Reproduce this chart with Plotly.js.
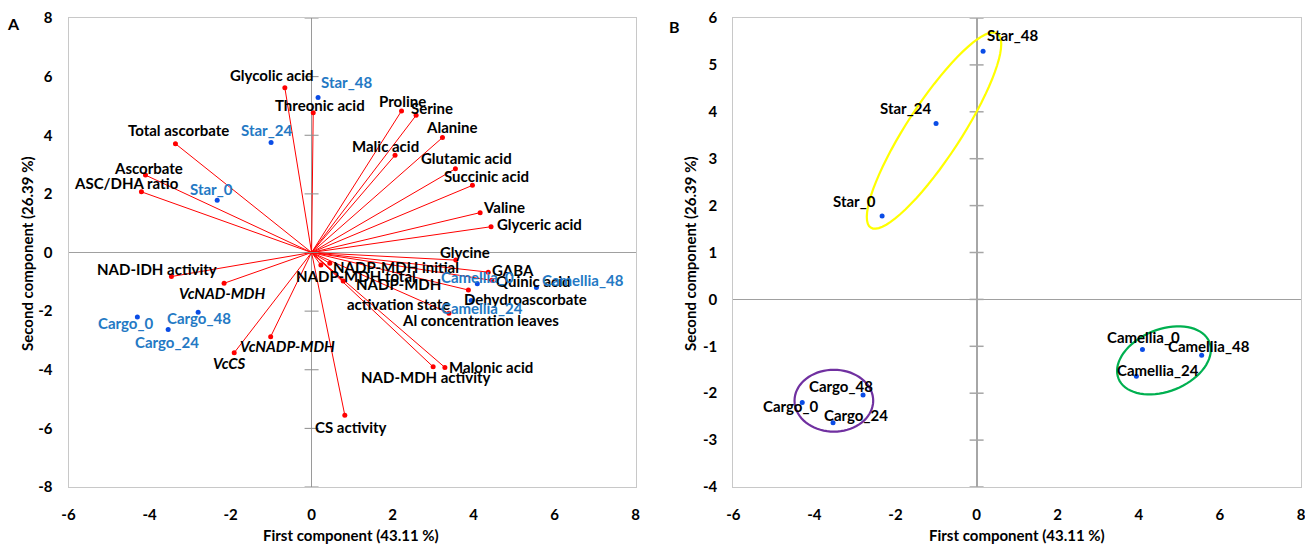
<!DOCTYPE html>
<html>
<head>
<meta charset="utf-8">
<script src="https://cdn.plot.ly/plotly-3.0.1.min.js"></script>
<style>html,body{margin:0;padding:0;background:#fff;}#chart{width:1305px;height:544px;}</style>
</head>
<body>
<div id="chart"></div>
<script>
// ---------- DATA ----------
const varNames = ['Glycolic acid','Threonic acid','Total ascorbate','Ascorbate','ASC/DHA ratio',
  'Proline','Serine','Alanine','Malic acid','Glutamic acid','Succinic acid','Valine','Glyceric acid',
  'Glycine','GABA','Quinic acid','Dehydroascorbate','Al concentration leaves','Malonic acid',
  'NAD-MDH activity','CS activity','NADP-MDH initial','NADP-MDH total','NADP-MDH<br>activation state',
  'NAD-IDH activity','VcNAD-MDH','VcNADP-MDH','VcCS'];
const varPC1 = [-0.66, 0.04, -3.36, -4.10, -4.20,
  2.22, 2.58, 3.23, 2.06, 3.55, 3.97, 4.16, 4.43,
  3.56, 4.36, 4.45, 3.87, 3.39, 3.29,
  3.00, 0.82, 0.45, 0.23, 0.78,
  -3.46, -2.16, -1.01, -1.91];
const varPC2 = [5.62, 4.77, 3.71, 2.64, 2.07,
  4.83, 4.68, 3.92, 3.32, 2.86, 2.29, 1.36, 0.88,
  -0.26, -0.67, -0.95, -1.28, -2.07, -3.92,
  -3.90, -5.55, -0.37, -0.43, -0.97,
  -0.82, -1.05, -2.87, -3.42];

const sampleNames = ['Star_0','Star_24','Star_48','Cargo_0','Cargo_24','Cargo_48','Camellia_0','Camellia_24','Camellia_48'];
const samplePC1 = [-2.33, -1.00, 0.16, -4.30, -3.54, -2.80, 4.09, 3.94, 5.55];
const samplePC2 = [1.78, 3.75, 5.29, -2.20, -2.63, -2.04, -1.07, -1.64, -1.19];

const xTicks = [-6, -4, -2, 0, 2, 4, 6, 8];
const yTicksA = [-8, -6, -4, -2, 0, 2, 4, 6, 8];
const yTicksB = [-4, -3, -2, -1, 0, 1, 2, 3, 4, 5, 6];

// group ellipses in panel B: centre, two conjugate semi-axes (data units)
const ellipseCentres = [[-1.05, 3.60], [-3.52, -2.16], [4.62, -1.30]];
const ellipseAxisU   = [[1.56, 2.07], [0.97, 0.0], [1.12, 0.39]];
const ellipseAxisV   = [[0.56, -0.31], [0.0, -0.66], [0.287, -0.613]];

// ---------- STYLE / LABEL PLACEMENT (pixel offsets) ----------
const italicVars = ['VcNAD-MDH','VcNADP-MDH','VcCS'];
const varLabelShift = [[-13,-12.7],[7,-7.7],[2.6,-14],[3,-7.3],[-14.7,-8.4],
  [0.5,-10.3],[16,-7],[8.6,-10.4],[-9.7,-9.3],[11,-11],[14.5,-9.6],[24,-5.4],[48,-2.7],
  [9.3,-7.7],[25,-2.3],[42,0.4],[56.7,9.3],[31.8,7],[45.8,0],
  [-7,10],[5.8,12.3],[65.8,3.4],[35,11],[55.7,12.7],
  [-14.2,-7.4],[-1.8,10],[16.5,9.3],[-4.3,10.6]];
const sampleShiftA = [[-5.3,-11],[-4.7,-12.6],[28.8,-15.8],[-12,5.7],[-1.6,12],[1,6],[0,-7],[11,7.2],[46.5,-7.4]];
const sampleShiftB = [[-28,-14.5],[-30.3,-15.5],[29.3,-16.6],[-11.5,3.8],[22.7,-8],[-22.4,-8.7],[0.7,-12.2],[21.8,-6.6],[7.4,-8.8]];
const ellipseColors = ['#FFFF00', '#7030A0', '#00B050'];

const FONT = 'Lato, "Open Sans", sans-serif';
const LABEL_SIZE = 15;
const SAMPLE_BLUE_TEXT = '#2479C4';
const DOT_BLUE = '#0A4CE6';

// ---------- TRACES ----------
const lineX = [], lineY = [];
varPC1.forEach((x, i) => { lineX.push(0, x, null); lineY.push(0, varPC2[i], null); });

const traces = [
  {x: lineX, y: lineY, xaxis: 'x', yaxis: 'y', mode: 'lines', type: 'scatter',
   line: {color: '#FF0000', width: 1}, hoverinfo: 'skip'},
  {x: varPC1, y: varPC2, xaxis: 'x', yaxis: 'y', mode: 'markers', type: 'scatter',
   marker: {color: '#FF0000', size: 5}},
  {x: samplePC1, y: samplePC2, xaxis: 'x', yaxis: 'y', mode: 'markers', type: 'scatter',
   marker: {color: DOT_BLUE, size: 5}},
  {x: yTicksA.map(() => 0), y: yTicksA, xaxis: 'x', yaxis: 'y', mode: 'markers', type: 'scatter',
   marker: {symbol: 'line-ew', size: 10, line: {color: '#8c8c8c', width: 1}}, cliponaxis: false, hoverinfo: 'skip'},
  {x: samplePC1, y: samplePC2, xaxis: 'x2', yaxis: 'y2', mode: 'markers', type: 'scatter',
   marker: {color: DOT_BLUE, size: 5}},
  {x: yTicksB.map(() => 0), y: yTicksB, xaxis: 'x2', yaxis: 'y2', mode: 'markers', type: 'scatter',
   marker: {symbol: 'line-ew', size: 10, line: {color: '#a6a6a6', width: 1.5}}, cliponaxis: false, hoverinfo: 'skip'}
];

// ---------- ANNOTATIONS ----------
const annotations = [];
varNames.forEach((n, i) => {
  annotations.push({x: varPC1[i], y: varPC2[i], xref: 'x', yref: 'y', text: n, showarrow: false,
    xanchor: 'center', yanchor: 'middle', xshift: varLabelShift[i][0], yshift: -varLabelShift[i][1],
    font: {family: FONT, size: LABEL_SIZE, color: '#000', weight: 700,
           style: italicVars.includes(n) ? 'italic' : 'normal'}});
});
sampleNames.forEach((n, i) => {
  annotations.push({x: samplePC1[i], y: samplePC2[i], xref: 'x', yref: 'y', text: n, showarrow: false,
    xanchor: 'center', yanchor: 'middle', xshift: sampleShiftA[i][0], yshift: -sampleShiftA[i][1],
    font: {family: FONT, size: LABEL_SIZE, color: SAMPLE_BLUE_TEXT, weight: 700}});
  annotations.push({x: samplePC1[i], y: samplePC2[i], xref: 'x2', yref: 'y2', text: n, showarrow: false,
    xanchor: 'center', yanchor: 'middle', xshift: sampleShiftB[i][0], yshift: -sampleShiftB[i][1],
    font: {family: FONT, size: LABEL_SIZE, color: '#000', weight: 700}});
});
const titleFont = {family: FONT, size: 15, color: '#000', weight: 700};
annotations.push(
  {x: 351/1305, y: 9/544, xref: 'paper', yref: 'paper', text: 'First component (43.11 %)', showarrow: false, xanchor: 'center', yanchor: 'middle', font: titleFont},
  {x: 1017/1305, y: 9/544, xref: 'paper', yref: 'paper', text: 'First component (43.11 %)', showarrow: false, xanchor: 'center', yanchor: 'middle', font: titleFont},
  {x: 27/1305, y: 290/544, xref: 'paper', yref: 'paper', text: 'Second component (26.39 %)', showarrow: false, textangle: -90, xanchor: 'center', yanchor: 'middle', font: titleFont},
  {x: 690/1305, y: 290/544, xref: 'paper', yref: 'paper', text: 'Second component (26.39 %)', showarrow: false, textangle: -90, xanchor: 'center', yanchor: 'middle', font: titleFont},
  {x: 13/1305, y: 520/544, xref: 'paper', yref: 'paper', text: 'A', showarrow: false, xanchor: 'center', yanchor: 'middle', font: {family: FONT, size: 16, color: '#000', weight: 700}},
  {x: 674/1305, y: 518/544, xref: 'paper', yref: 'paper', text: 'B', showarrow: false, xanchor: 'center', yanchor: 'middle', font: {family: FONT, size: 16, color: '#000', weight: 700}}
);

// ---------- ELLIPSE SHAPES ----------
const shapes = ellipseCentres.map((c, k) => {
  const u = ellipseAxisU[k], v = ellipseAxisV[k];
  let p = '';
  for (let j = 0; j <= 72; j++) {
    const t = 2 * Math.PI * j / 72;
    const px = c[0] + u[0] * Math.cos(t) + v[0] * Math.sin(t);
    const py = c[1] + u[1] * Math.cos(t) + v[1] * Math.sin(t);
    p += (j === 0 ? 'M' : 'L') + px.toFixed(4) + ',' + py.toFixed(4);
  }
  return {type: 'path', path: p + 'Z', xref: 'x2', yref: 'y2', line: {color: ellipseColors[k], width: 2.2}};
});

// ---------- AXES ----------
const tickFont = {family: FONT, size: 15, color: '#000', weight: 700};
function xAxis(domain, zlw, zlc) {
  return {domain: domain, range: [-6, 8], tickvals: xTicks, ticktext: xTicks.map(String),
    showgrid: false, zeroline: true, zerolinecolor: zlc, zerolinewidth: zlw,
    showline: true, mirror: true, linecolor: '#c8c8c8', linewidth: 1, ticks: '',
    tickfont: tickFont, ticklabelstandoff: 14, ticklabeloverflow: 'allow', fixedrange: true};
}
function yAxis(domain, ticks, range, anchor) {
  return {domain: domain, range: range, tickvals: ticks, ticktext: ticks.map(String), anchor: anchor,
    showgrid: false, zeroline: true, zerolinecolor: '#a0a0a0', zerolinewidth: 1,
    showline: true, mirror: true, linecolor: '#c8c8c8', linewidth: 1, ticks: '',
    tickfont: tickFont, ticklabelstandoff: 12, ticklabeloverflow: 'allow', fixedrange: true};
}
const yDom = [57/544, 526/544];
const layout = {
  width: 1305, height: 544, margin: {l: 0, r: 0, t: 0, b: 0},
  paper_bgcolor: '#fff', plot_bgcolor: '#fff', showlegend: false,
  xaxis: xAxis([68.5/1305, 635.7/1305], 1, '#9a9a9a'),
  yaxis: yAxis(yDom, yTicksA, [-8, 8], 'x'),
  xaxis2: Object.assign(xAxis([733.3/1305, 1301/1305], 2, '#a6a6a6'), {anchor: 'y2'}),
  yaxis2: yAxis(yDom, yTicksB, [-4, 6], 'x2'),
  annotations: annotations, shapes: shapes, font: {family: FONT}
};
layout.xaxis.anchor = 'y';
Plotly.newPlot('chart', traces, layout, {staticPlot: true, displayModeBar: false});
</script>
</body>
</html>
